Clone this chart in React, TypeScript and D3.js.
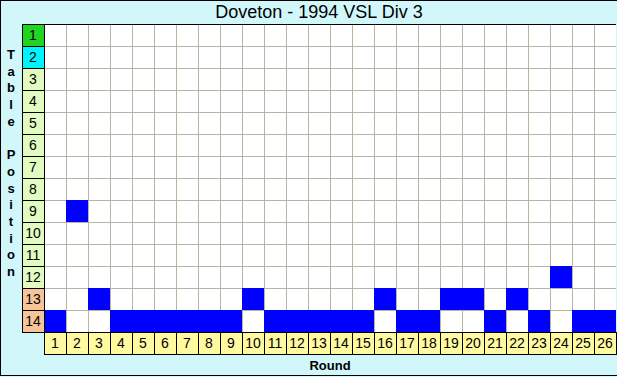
import React from "react";
import * as d3 from "d3";

const title = "Doveton - 1994 VSL Div 3";
const rounds = d3.range(1, 27);
const positions = d3.range(1, 15);
const finishPositions = [14, 9, 13, 14, 14, 14, 14, 14, 14, 13, 14, 14, 14, 14, 14, 13, 14, 14, 13, 13, 14, 13, 14, 12, 14, 14];
const yAxisLabel = "Table Position";
const xAxisLabel = "Round";

const W = 617;
const H = 377;
const left = 44;
const right = 616;
const top = 24;
const bottom = 332;

function rowColor(p: number) {
  if (p === 1) return "#22d422";
  if (p === 2) return "#00f4ff";
  if (p >= 13) return "#f6c496";
  return "#e2fbc0";
}

export default function App() {
  const x = d3.scaleBand<number>().domain(rounds).range([left, right]);
  const y = d3.scaleBand<number>().domain(positions).range([top, bottom]);
  const bw = x.bandwidth();
  const bh = y.bandwidth();
  const font = "'Liberation Sans', Arial, sans-serif";
  const letters = yAxisLabel.split("");
  return (
    <svg width={W} height={H} style={{ position: "fixed", left: 0, top: 0 }} shapeRendering="crispEdges">
      <rect x={0} y={0} width={W} height={H} fill="#d2f7fb" />
      <line x1={0.5} y1={0} x2={0.5} y2={376} stroke="#000" />
      <line x1={0} y1={0.5} x2={W} y2={0.5} stroke="#000" />
      <line x1={0} y1={375.5} x2={W} y2={375.5} stroke="#000" />
      <text x={319} y={18} textAnchor="middle" fontFamily={font} fontSize={18} fill="#000">{title}</text>
      <rect x={left} y={top} width={right - left} height={bottom - top} fill="#fff" />
      {rounds.map((r) => (
        <line key={"v" + r} x1={(x(r) as number) + 0.5} x2={(x(r) as number) + 0.5} y1={top} y2={bottom} stroke="#bab2a2" />
      ))}
      {positions.map((p) => (
        <line key={"h" + p} x1={left} x2={right} y1={(y(p) as number) + 0.5} y2={(y(p) as number) + 0.5} stroke="#bab2a2" />
      ))}
      {finishPositions.map((p, i) => (
        <rect key={"c" + i} x={x(rounds[i])} y={y(p)} width={bw} height={bh} fill="#0000ff" />
      ))}
      <line x1={left - 22} x2={right} y1={top + 0.5} y2={top + 0.5} stroke="#000" />
      {positions.map((p) => (
        <g key={"rl" + p}>
          <rect x={left - 22 + 0.5} y={(y(p) as number) + 0.5} width={22} height={bh} fill={rowColor(p)} stroke="#000" />
          <text x={left - 11} y={(y(p) as number) + bh / 2 + 5} textAnchor="middle" fontFamily={font} fontSize={14} fill="#000">{p}</text>
        </g>
      ))}
      {rounds.map((r) => (
        <g key={"cl" + r}>
          <rect x={(x(r) as number) + 0.5} y={bottom + 0.5} width={bw} height={22} fill="#fffaa0" stroke="#000" />
          <text x={(x(r) as number) + bw / 2} y={bottom + 16} textAnchor="middle" fontFamily={font} fontSize={14} fill="#000">{r}</text>
        </g>
      ))}
      {letters.map((ch, i) => (
        <text key={"yl" + i} x={11} y={59 + i * 16.7} textAnchor="middle" fontFamily={font} fontWeight="bold" fontSize={13} fill="#000">{ch}</text>
      ))}
      <text x={(left + right) / 2} y={370} textAnchor="middle" fontFamily={font} fontWeight="bold" fontSize={13} fill="#000">{xAxisLabel}</text>
    </svg>
  );
}
